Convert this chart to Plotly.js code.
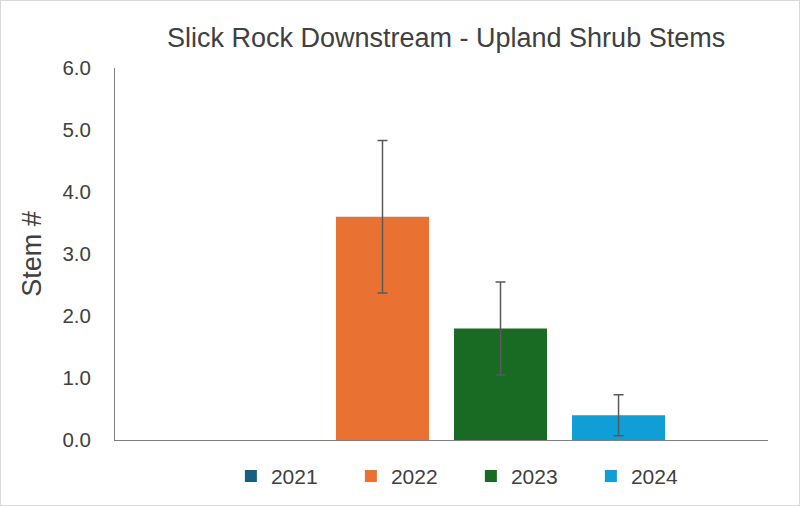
<!DOCTYPE html>
<html>
<head>
<meta charset="utf-8">
<script src="https://cdn.plot.ly/plotly-3.0.1.min.js"></script>
<style>
  body { margin: 0; background: #fff; }
  #chart { width: 798px; height: 504px; border: 1px solid #d9d9d9; }
</style>
</head>
<body>
<div id="chart"></div>
<script>
// one category, one series per year (Excel clustered column style)
var category = ['Upland Shrub Stems'];
var years = ['2021', '2022', '2023', '2024'];
var means = [0, 3.6, 1.8, 0.4];
var errs = [0, 1.23, 0.75, 0.33];
var colors = ['#156082', '#E97132', '#196B24', '#0F9ED5'];

var textColor = '#404040';
var fontFam = 'Liberation Sans, Arial, sans-serif';

var traces = years.map(function (yr, i) {
  return {
    type: 'bar',
    name: yr,
    x: category,
    y: [means[i]],
    marker: { color: colors[i] },
    error_y: {
      type: 'data',
      array: [errs[i]],
      visible: errs[i] > 0,
      color: '#595959',
      thickness: 1.5,
      width: 5
    },
    hoverinfo: 'name+y'
  };
});

var layout = {
  width: 798,
  height: 504,
  margin: { l: 114, r: 31, t: 67, b: 65, pad: 0 },
  paper_bgcolor: '#fff',
  plot_bgcolor: '#fff',
  font: { family: fontFam, color: textColor },
  title: {
    text: 'Slick Rock Downstream - Upland Shrub Stems',
    font: { size: 27, color: textColor },
    xref: 'paper',
    x: 0.507,
    yref: 'container',
    y: 0.927,
    yanchor: 'middle'
  },
  barmode: 'group',
  bargap: 0.277,
  bargroupgap: 0.212,
  xaxis: {
    type: 'category',
    showline: true,
    linecolor: '#7f7f7f',
    linewidth: 1,
    showticklabels: false,
    ticks: '',
    showgrid: false,
    zeroline: false
  },
  yaxis: {
    range: [0, 6],
    dtick: 1,
    tick0: 0,
    tickformat: '.1f',
    showline: true,
    linecolor: '#7f7f7f',
    linewidth: 1,
    showgrid: false,
    zeroline: false,
    ticks: '',
    ticklabelstandoff: 19,
    tickfont: { size: 20.5, color: textColor },
    title: { text: 'Stem #', font: { size: 27, color: textColor }, standoff: 12 }
  },
  showlegend: true,
  legend: {
    orientation: 'h',
    x: 0.545,
    xanchor: 'center',
    yref: 'container',
    y: 0.057,
    yanchor: 'middle',
    entrywidth: 75,
    bgcolor: 'rgba(0,0,0,0)',
    font: { size: 21, color: textColor },
    traceorder: 'normal'
  }
};

Plotly.newPlot('chart', traces, layout, { displayModeBar: false, staticPlot: true });
</script>
</body>
</html>
